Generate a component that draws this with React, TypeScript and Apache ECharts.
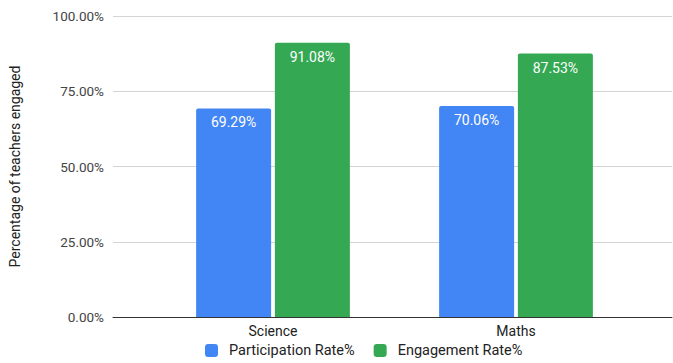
import React, { useEffect, useRef } from "react";
import * as echarts from "echarts";

const categories = ["Science", "Maths"];
const participation = [69.29, 70.06];
const engagement = [91.08, 87.53];
const seriesNames = ["Participation Rate%", "Engagement Rate%"];
const yTicks = { min: 0, max: 100, interval: 25 };

const FONT = "Roboto, Arial, sans-serif";

export default function App() {
  const ref = useRef<HTMLDivElement>(null);

  useEffect(() => {
    if (!ref.current) return;
    const chart = echarts.init(ref.current, undefined, { renderer: "svg" });
    const top = 16;
    const bottom = 46;
    const valueLabel = {
      show: true,
      position: "insideTop" as const,
      distance: 7,
      color: "#ffffff",
      fontSize: 14,
      fontFamily: FONT,
      formatter: (p: any) => p.value.toFixed(2) + "%",
    };
    chart.setOption({
      animation: false,
      textStyle: { fontFamily: FONT },
      grid: [
        { left: 109, right: 1, top, bottom },
        { left: 151.5, right: 35.5, top, bottom },
      ],
      xAxis: [
        {
          gridIndex: 0,
          type: "category",
          data: [""],
          axisLine: { show: true, lineStyle: { color: "#333333", width: 1 } },
          axisTick: { show: false },
          axisLabel: { show: false },
        },
        {
          gridIndex: 1,
          type: "category",
          data: categories,
          axisLine: { show: false },
          axisTick: { show: false },
          axisLabel: { color: "#222222", fontSize: 14, margin: 7, fontFamily: FONT },
        },
      ],
      yAxis: [
        {
          gridIndex: 0,
          type: "value",
          ...yTicks,
          name: "Percentage of teachers engaged",
          nameLocation: "middle",
          nameGap: 91,
          nameTextStyle: { color: "#222222", fontSize: 14, fontFamily: FONT },
          axisLine: { show: false },
          axisTick: { show: false },
          axisLabel: {
            color: "#444444",
            fontSize: 13.5,
            margin: 9,
            fontFamily: FONT,
            formatter: (v: number) => v.toFixed(2) + "%",
          },
          splitLine: { lineStyle: { color: "#d4d4d4", width: 1 } },
        },
        {
          gridIndex: 1,
          type: "value",
          ...yTicks,
          show: false,
          splitLine: { show: false },
        },
      ],
      legend: {
        top: 343,
        left: 205,
        itemWidth: 13,
        itemHeight: 13,
        itemGap: 19,
        padding: 0,
        icon: "roundRect",
        textStyle: { color: "#222222", fontSize: 14.5, fontFamily: FONT, padding: [0, 0, 0, 6] },
        data: seriesNames,
      },
      series: [
        {
          name: seriesNames[0],
          type: "bar",
          xAxisIndex: 1,
          yAxisIndex: 1,
          data: participation,
          barWidth: 75,
          barGap: "5%",
          itemStyle: { color: "#4285F4", borderRadius: [2, 2, 0, 0] },
          label: valueLabel,
        },
        {
          name: seriesNames[1],
          type: "bar",
          xAxisIndex: 1,
          yAxisIndex: 1,
          data: engagement,
          barWidth: 75,
          barGap: "5%",
          itemStyle: { color: "#34A853", borderRadius: [2, 2, 0, 0] },
          label: valueLabel,
        },
      ],
    });
    return () => chart.dispose();
  }, []);

  return <div ref={ref} style={{ width: 673, height: 363, position: "absolute", left: 0, top: 0 }} />;
}
